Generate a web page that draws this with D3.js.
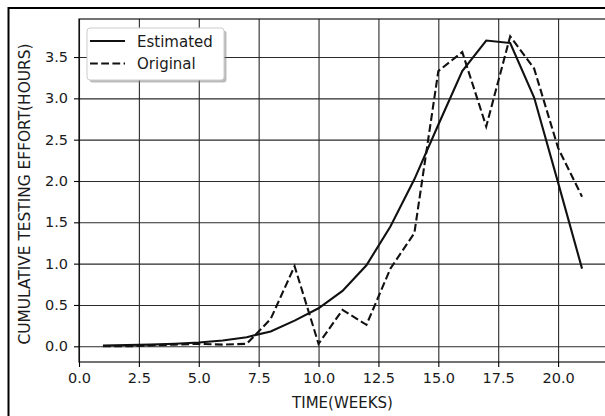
<!DOCTYPE html>
<html>
<head>
<meta charset="utf-8">
<script src="https://cdn.jsdelivr.net/npm/d3@7"></script>
<style>
  body { margin: 0; background: #fff; }
  svg { display: block; font-family: "DejaVu Sans", sans-serif; }
</style>
</head>
<body>
<div id="chart"></div>
<script>
// Data
const weeks = [1, 2, 3, 4, 5, 6, 7, 8, 9, 10, 11, 12, 13, 14, 15, 16, 17, 18, 19, 20, 21];
const estimated = [0.01, 0.015, 0.02, 0.03, 0.045, 0.07, 0.11, 0.18, 0.31, 0.46, 0.67, 0.98, 1.45, 2.02, 2.68, 3.33, 3.70, 3.67, 3.01, 1.98, 0.94];
const original = [0.0, 0.0, 0.01, 0.02, 0.03, 0.02, 0.03, 0.33, 0.97, 0.03, 0.44, 0.26, 0.94, 1.37, 3.33, 3.56, 2.66, 3.75, 3.36, 2.40, 1.81];
const xTicks = [0, 2.5, 5, 7.5, 10, 12.5, 15, 17.5, 20];
const yTicks = [0, 0.5, 1, 1.5, 2, 2.5, 3, 3.5];
const seriesNames = ["Estimated", "Original"];

const W = 605, H = 416;
const margin = { top: 19, right: -1, bottom: 54, left: 79 };
const width = W - margin.left - margin.right;
const height = H - margin.top - margin.bottom;

const svg = d3.select("#chart").append("svg")
    .attr("width", W)
    .attr("height", H);

// outer frame (figure border)
svg.append("rect")
    .attr("x", 8.5).attr("y", 8)
    .attr("width", W + 10).attr("height", H + 10)
    .attr("fill", "none")
    .attr("stroke", "#000")
    .attr("stroke-width", 2);

const g = svg.append("g")
    .attr("transform", `translate(${margin.left},${margin.top})`);

// Scales
const x = d3.scaleLinear().domain([0, 22]).range([0, width]);
const y = d3.scaleLinear().domain([-0.19, 3.96]).range([height, 0]);

// Grid
g.append("g")
    .attr("class", "grid")
    .attr("transform", `translate(0,${height})`)
    .call(d3.axisBottom(x).tickValues(xTicks).tickSize(-height).tickFormat(""));
g.append("g")
    .attr("class", "grid")
    .call(d3.axisLeft(y).tickValues(yTicks).tickSize(-width).tickFormat(""));
g.selectAll(".grid .domain").remove();
g.selectAll(".grid .tick line").attr("stroke", "#2a2a2a").attr("stroke-width", 1.3);

// Axes
const gx = g.append("g")
    .attr("transform", `translate(0,${height})`)
    .call(d3.axisBottom(x).tickValues(xTicks).tickSize(5).tickPadding(6).tickFormat(d3.format(".1f")));
const gy = g.append("g")
    .call(d3.axisLeft(y).tickValues(yTicks).tickSize(5).tickPadding(6).tickFormat(d3.format(".1f")));

g.selectAll(".domain").remove();
gx.selectAll("text").attr("font-size", 14.5).attr("fill", "#1a1a1a").style("font-family", "DejaVu Sans");
gy.selectAll("text").attr("font-size", 14.5).attr("fill", "#1a1a1a").style("font-family", "DejaVu Sans");
g.selectAll(".tick line").attr("stroke-width", 1.1);

// Spines
g.append("rect")
    .attr("width", width).attr("height", height)
    .attr("fill", "none")
    .attr("stroke", "#000")
    .attr("stroke-width", 1.1);

// Lines
const lineGen = d3.line().x((d, i) => x(weeks[i])).y(d => y(d));

g.append("path")
    .datum(estimated)
    .attr("d", lineGen)
    .attr("fill", "none")
    .attr("stroke", "#111")
    .attr("stroke-width", 2.1);

g.append("path")
    .datum(original)
    .attr("d", lineGen)
    .attr("fill", "none")
    .attr("stroke", "#111")
    .attr("stroke-width", 2.1)
    .attr("stroke-dasharray", "7.8,3.4");

// Axis labels
svg.append("text")
    .attr("x", margin.left + width / 2)
    .attr("y", 408)
    .attr("text-anchor", "middle")
    .attr("font-size", 15)
    .attr("fill", "#1a1a1a")
    .text("TIME(WEEKS)");

svg.append("text")
    .attr("transform", `translate(30,194) rotate(-90)`)
    .attr("text-anchor", "middle")
    .attr("font-size", 15.4)
    .attr("fill", "#1a1a1a")
    .text("CUMULATIVE TESTING EFFORT(HOURS)");

// Legend
const lg = svg.append("g").attr("transform", "translate(87,28)");
lg.append("rect")
    .attr("x", 2.5).attr("y", 2.5)
    .attr("width", 137).attr("height", 52)
    .attr("rx", 3)
    .attr("fill", "#777").attr("opacity", 0.5);
lg.append("rect")
    .attr("width", 137).attr("height", 52)
    .attr("rx", 3)
    .attr("fill", "#fff")
    .attr("stroke", "#ccc")
    .attr("stroke-width", 1);

seriesNames.forEach((name, i) => {
    const ly = 13 + i * 22.5;
    lg.append("line")
        .attr("x1", 3).attr("x2", 38)
        .attr("y1", ly).attr("y2", ly)
        .attr("stroke", "#111")
        .attr("stroke-width", 2.1)
        .attr("stroke-dasharray", i === 1 ? "7.8,3.4" : null);
    lg.append("text")
        .attr("x", 50).attr("y", ly + 5.5)
        .attr("font-size", 15)
        .attr("fill", "#1a1a1a")
        .text(name);
});
</script>
</body>
</html>
